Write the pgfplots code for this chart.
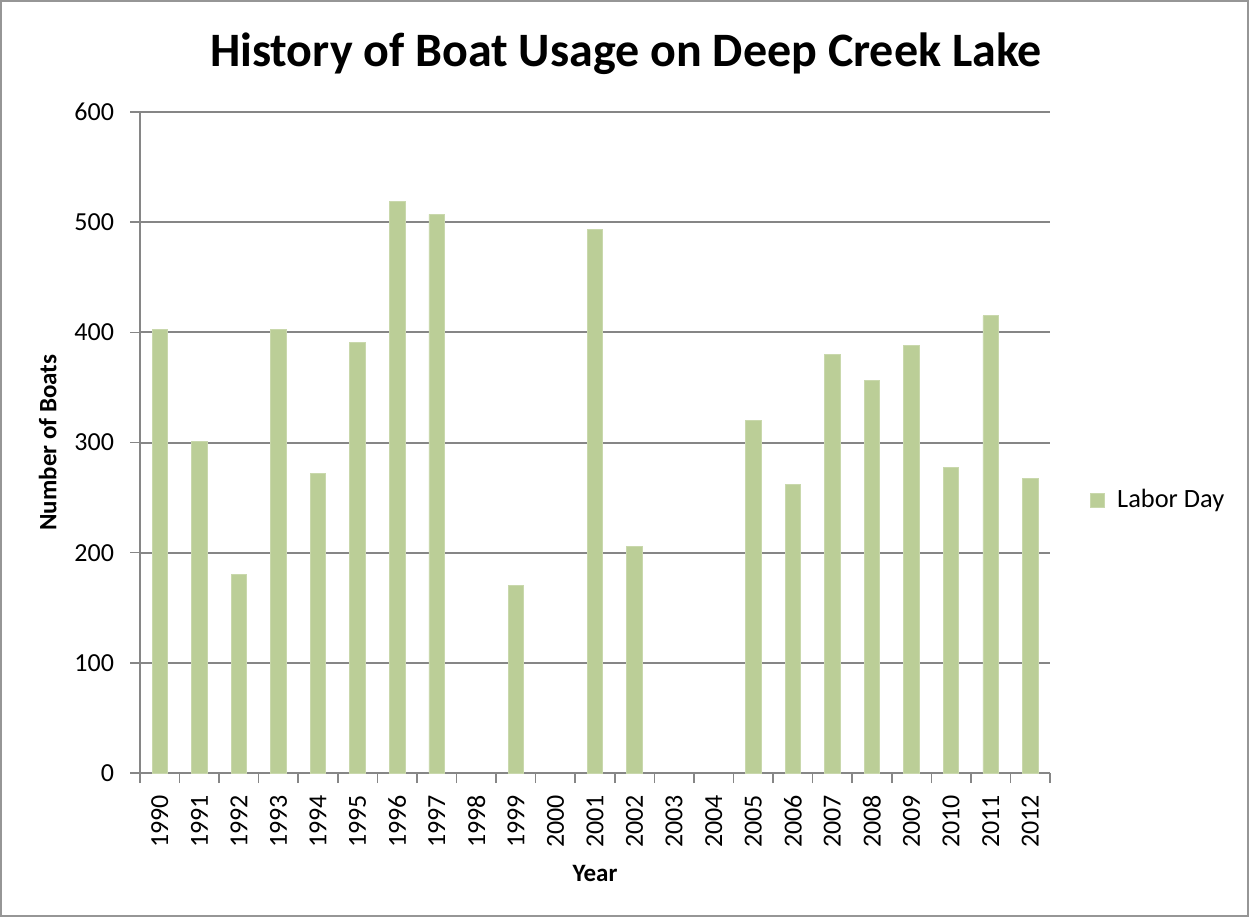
\documentclass[border=0pt]{standalone}
\usepackage{pgfplots}
\pgfplotsset{compat=1.18}
\usepackage{fontspec}
\setmainfont{Carlito}

\definecolor{barfill}{RGB}{187,206,151}
\definecolor{gridgray}{RGB}{134,134,134}
\definecolor{framegray}{RGB}{150,150,150}

\begin{document}
\begin{tikzpicture}
  % chart frame
  \useasboundingbox (0,0) rectangle (624.5pt,458.5pt);
  \draw[framegray, line width=1pt] (0.5pt,0.5pt) rectangle (624pt,458pt);
  \node[font=\fontsize{24}{29}\selectfont\bfseries] at (313pt,431.5pt) {History of Boat Usage on Deep Creek Lake};
  \begin{axis}[
    at={(70pt,72pt)}, anchor=south west,
    scale only axis, width=455pt, height=330.5pt,
    ybar, bar width=7.75pt,
    xmin=-0.5, xmax=22.5,
    ymin=0, ymax=600,
    ytick={0,100,...,600},
    xtick={0,...,22},
    xticklabels={1990,1991,1992,1993,1994,1995,1996,1997,1998,1999,2000,2001,2002,2003,2004,2005,2006,2007,2008,2009,2010,2011,2012},
    minor xtick={-0.5,0.5,...,22.5},
    major x tick style={draw=none},
    minor x tick style={draw=gridgray, line width=0.8pt},
    y tick style={draw=gridgray, line width=0.8pt},
    tick align=outside,
    major tick length=5pt, minor tick length=5pt,
    axis x line*=bottom, axis y line*=left,
    axis line style={gridgray, line width=1pt},
    ymajorgrids, grid style={gridgray, line width=1pt},
    /pgf/number format/assume math mode=true,
    tick label style={font=\fontsize{13}{15}\selectfont},
    xticklabel style={rotate=90, anchor=east, xshift=-2.5pt},
    yticklabel style={xshift=-4.5pt},
    xlabel={Year}, ylabel={Number of Boats},
    label style={font=\fontsize{12.5}{14}\selectfont\bfseries},
    xlabel style={yshift=-2pt},
    ylabel style={yshift=2pt},
    legend style={at={(1,0.413)}, anchor=west, xshift=17pt, draw=none, fill=none,
      column sep=4pt, font=\fontsize{13.2}{15}\selectfont},
    legend image code/.code={\fill[#1] (0pt,-3.5pt) rectangle (7pt,3.5pt);},
  ]
    \addplot[fill=barfill, draw=barfill!80!white] coordinates {
      (0,403) (1,301) (2,180) (3,403) (4,272) (5,391) (6,519) (7,507)
      (9,170) (11,493) (12,206)
      (15,320) (16,262) (17,380) (18,356) (19,388) (20,277) (21,415) (22,267)
    };
    \addlegendentry{Labor Day}
  \end{axis}
\end{tikzpicture}
\end{document}
